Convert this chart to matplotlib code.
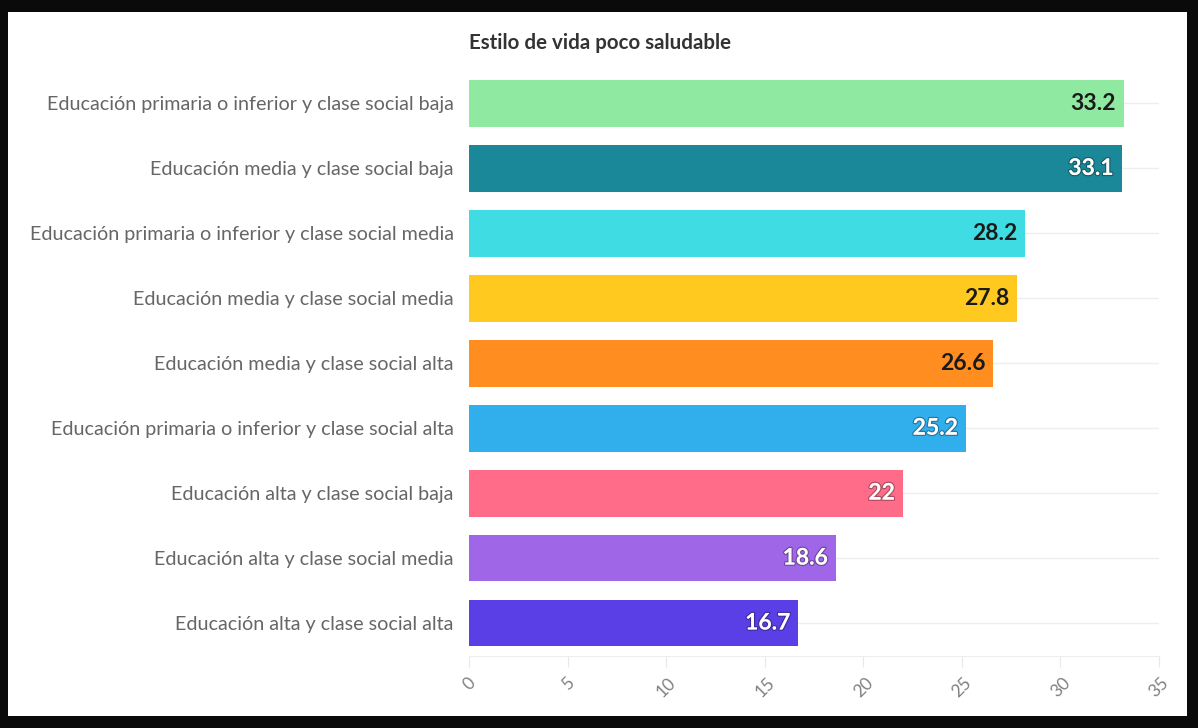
import matplotlib
matplotlib.use("Agg")
import matplotlib.pyplot as plt
import matplotlib.patheffects as pe
from matplotlib.patches import Rectangle

categories = [
    "Educación primaria o inferior y clase social baja",
    "Educación media y clase social baja",
    "Educación primaria o inferior y clase social media",
    "Educación media y clase social media",
    "Educación media y clase social alta",
    "Educación primaria o inferior y clase social alta",
    "Educación alta y clase social baja",
    "Educación alta y clase social media",
    "Educación alta y clase social alta",
]
values = [33.2, 33.1, 28.2, 27.8, 26.6, 25.2, 22, 18.6, 16.7]
value_labels = ["33.2", "33.1", "28.2", "27.8", "26.6", "25.2", "22", "18.6", "16.7"]
colors = ["#90E9A0", "#1A8898", "#3FDCE4", "#FFC91F", "#FF8D1F",
          "#31AEEC", "#FF6C8A", "#A066E8", "#5A3EE6"]
label_colors = ["#1a1a1a", "#ffffff", "#1a1a1a", "#1a1a1a", "#1a1a1a",
                "#ffffff", "#ffffff", "#ffffff", "#ffffff"]
xticks = [0, 5, 10, 15, 20, 25, 30, 35]
title = "Estilo de vida poco saludable"

plt.rcParams['font.family'] = ['Lato', 'DejaVu Sans']

W, H = 1198, 728
fig = plt.figure(figsize=(W / 100, H / 100), dpi=100, facecolor="#0a0a0a")
fig.patches.append(Rectangle((8 / W, 1 - 716 / H), (1187 - 8) / W, (716 - 12) / H,
                             transform=fig.transFigure, facecolor="white",
                             edgecolor="none", zorder=-10))

left, right = 469 / W, 1159 / W
top, bottom = 1 - 71 / H, 1 - 655.5 / H
ax = fig.add_axes([left, bottom, right - left, top - bottom])
ax.set_zorder(2)
ax.set_facecolor("none")

ypos = list(range(len(categories)))
for y in ypos:
    ax.axhline(y, color="#eeeeee", lw=1, zorder=0)
ax.barh(ypos, values, height=0.72, color=colors, zorder=2)

for y, v, lab, c in zip(ypos, values, value_labels, label_colors):
    t = ax.text(v - 0.4, y, lab, ha="right", va="center", fontsize=16.5,
                fontweight="bold", color=c, zorder=3)
    if c == "#ffffff":
        t.set_path_effects([pe.withStroke(linewidth=1.8, foreground=(0, 0, 0, 0.3))])

ax.set_xlim(0, 35)
ax.set_ylim(8.5, -0.5)
ax.set_yticks(ypos)
ax.set_yticklabels(categories, fontsize=14.2, color="#666666")
ax.tick_params(axis="y", length=0, pad=11)
ax.set_xticks(xticks)
ax.set_xticklabels([str(t) for t in xticks], rotation=45, fontsize=12.5,
                   color="#808080", ha="center", va="top")
ax.tick_params(axis="x", length=8, color="#e8e8e8", pad=6)

for s in ["top", "right", "left"]:
    ax.spines[s].set_visible(False)
ax.spines["bottom"].set_color("#eeeeee")

fig.text(left, 1 - 43 / H, title, ha="left", va="center", fontsize=14.8,
         fontweight="bold", color="#333333", zorder=3)

fig.savefig("out.png", dpi=100, facecolor=fig.get_facecolor())
